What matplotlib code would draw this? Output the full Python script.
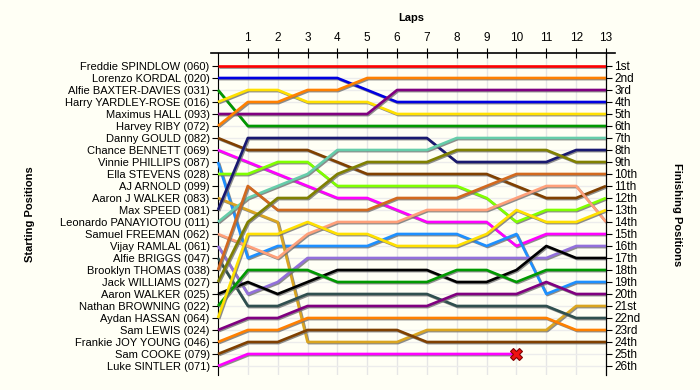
import matplotlib

matplotlib.use("Agg")
import matplotlib.pyplot as plt
import matplotlib.patheffects as pe

# Starting grid (top to bottom)
starters = [
    "Freddie SPINDLOW (060)",
    "Lorenzo KORDAL (020)",
    "Alfie BAXTER-DAVIES (031)",
    "Harry YARDLEY-ROSE (016)",
    "Maximus HALL (093)",
    "Harvey RIBY (072)",
    "Danny GOULD (082)",
    "Chance BENNETT (069)",
    "Vinnie PHILLIPS (087)",
    "Ella STEVENS (028)",
    "AJ ARNOLD (099)",
    "Aaron J WALKER (083)",
    "Max SPEED (081)",
    "Leonardo PANAYIOTOU (011)",
    "Samuel FREEMAN (062)",
    "Vijay RAMLAL (061)",
    "Alfie BRIGGS (047)",
    "Brooklyn THOMAS (038)",
    "Jack WILLIAMS (027)",
    "Aaron WALKER (025)",
    "Nathan BROWNING (022)",
    "Aydan HASSAN (064)",
    "Sam LEWIS (024)",
    "Frankie JOY YOUNG (046)",
    "Sam COOKE (079)",
    "Luke SINTLER (071)",
]

finish_labels = [
    "1st", "2nd", "3rd", "4th", "5th", "6th", "7th", "8th", "9th", "10th",
    "11th", "12th", "13th", "14th", "15th", "16th", "17th", "18th", "19th",
    "20th", "21st", "22nd", "23rd", "24th", "25th", "26th",
]

lap_ticks = list(range(1, 14))

# Position after each lap (lap 0 = grid), one row per starter
lap_positions = [
    [1, 1, 1, 1, 1, 1, 1, 1, 1, 1, 1, 1, 1, 1],
    [2, 2, 2, 2, 2, 3, 4, 4, 4, 4, 4, 4, 4, 4],
    [3, 6, 6, 6, 6, 6, 6, 6, 6, 6, 6, 6, 6, 6],
    [4, 3, 3, 4, 4, 4, 5, 5, 5, 5, 5, 5, 5, 5],
    [5, 5, 5, 5, 5, 5, 3, 3, 3, 3, 3, 3, 3, 3],
    [6, 4, 4, 3, 3, 2, 2, 2, 2, 2, 2, 2, 2, 2],
    [7, 8, 8, 8, 9, 10, 10, 10, 10, 10, 11, 12, 12, 11],
    [8, 9, 10, 11, 12, 12, 13, 14, 14, 14, 16, 15, 15, 15],
    [9, 17, 16, 16, 16, 16, 15, 15, 15, 16, 15, 20, 19, 19],
    [10, 10, 9, 9, 11, 11, 11, 11, 11, 12, 14, 13, 13, 12],
    [],
    [12, 13, 14, 24, 24, 24, 24, 23, 23, 23, 23, 23, 21, 21],
    [13, 7, 7, 7, 7, 7, 7, 7, 9, 9, 9, 9, 8, 8],
    [14, 12, 11, 10, 8, 8, 8, 8, 7, 7, 7, 7, 7, 7],
    [15, 16, 17, 15, 14, 14, 14, 13, 13, 13, 12, 11, 11, 14],
    [16, 20, 19, 17, 17, 17, 17, 17, 17, 17, 17, 17, 16, 16],
    [17, 21, 21, 20, 20, 20, 20, 20, 21, 21, 21, 21, 22, 22],
    [18, 11, 13, 13, 13, 13, 12, 12, 12, 11, 10, 10, 10, 10],
    [19, 14, 12, 12, 10, 9, 9, 9, 8, 8, 8, 8, 9, 9],
    [20, 19, 20, 19, 18, 18, 18, 18, 19, 19, 18, 16, 17, 17],
    [21, 18, 18, 18, 19, 19, 19, 19, 18, 18, 19, 18, 18, 18],
    [22, 15, 15, 14, 15, 15, 16, 16, 16, 15, 13, 14, 14, 13],
    [23, 22, 22, 21, 21, 21, 21, 21, 20, 20, 20, 19, 20, 20],
    [24, 23, 23, 22, 22, 22, 22, 22, 22, 22, 22, 22, 23, 23],
    [25, 24, 24, 23, 23, 23, 23, 24, 24, 24, 24, 24, 24, 24],
    [26, 25, 25, 25, 25, 25, 25, 25, 25, 25, 25],
]

# drivers who retired (index into starters)
retired = [25]

colors = [
    "#ff0000", "#0000e0", "#009900", "#ffe000", "#800080", "#ff8000",
    "#804000", "#ff00ff", "#1e90ff", "#80ff00", "#808000", "#daa520",
    "#191970", "#66cdaa", "#ffa07a", "#9370db", "#2f4f4f", "#d2691e",
    "#808000", "#000000", "#009900", "#ffe000", "#800080", "#ff8000",
    "#804000", "#ff00ff",
]

bg = "#fffff5"
plt.rcParams["font.family"] = ["Liberation Sans", "DejaVu Sans"]

fig = plt.figure(figsize=(7, 3.9), dpi=100, facecolor=bg)
ax = fig.add_axes([0.3014, 0.0385, 0.5771, 0.8256], facecolor=bg)
ax.set_xlim(-0.2345, 13.30)
ax.set_ylim(26.75, -0.083)

# grid
for lap in range(14):
    ax.axvline(lap, color="#e6e6e6", lw=1, zorder=0)
for p in range(1, 27):
    ax.plot([0, 13], [p, p], color="#ececec", lw=1, zorder=0)

shadow = [pe.SimpleLineShadow(offset=(0.8, -0.8), shadow_color="#707070", alpha=0.8), pe.Normal()]
for i, pos in enumerate(lap_positions):
    if not pos:
        continue
    ax.plot(range(len(pos)), pos, color=colors[i], lw=1.9, zorder=3,
            solid_capstyle="butt", path_effects=shadow)
    if i in retired:
        ax.plot(len(pos) - 1, pos[-1], marker="X", ms=8, color="#ee1111",
                mec="#800000", mew=0.8, zorder=5)

# top axis
for s in ["bottom"]:
    ax.spines[s].set_visible(False)
ax.spines["top"].set_linewidth(1.2)
ax.spines["left"].set_position(("data", 0))
ax.spines["right"].set_position(("data", 13))
ax.spines["left"].set_bounds(26.75, -0.083)
ax.xaxis.set_ticks_position("top")
ax.set_xticks(lap_ticks)
ax.set_xticklabels([str(t) for t in lap_ticks], fontsize=8.5)
ax.tick_params(axis="x", direction="inout", length=7, pad=3)

ax.set_yticks(range(1, 27))
ax.set_yticklabels(starters, fontsize=8)
ax.tick_params(axis="y", direction="out", length=4, pad=2)

ax2 = ax.twinx()
ax2.set_ylim(ax.get_ylim())
ax2.spines["right"].set_position(("data", 13))
for s in ["top", "bottom", "left"]:
    ax2.spines[s].set_visible(False)
ax2.set_yticks(range(1, 27))
ax2.set_yticklabels(finish_labels, fontsize=8.5)
ax2.tick_params(axis="y", direction="out", length=4, pad=2)

fig.text(0.588, 0.955, "Laps", fontsize=8, fontweight="bold", ha="center", va="center")
fig.text(0.043, 0.45, "Starting Positions", fontsize=8, fontweight="bold",
         rotation=90, ha="center", va="center")
fig.text(0.967, 0.45, "Finishing Positions", fontsize=8, fontweight="bold",
         rotation=270, ha="center", va="center")

fig.savefig("out.png", dpi=100, facecolor=bg)
